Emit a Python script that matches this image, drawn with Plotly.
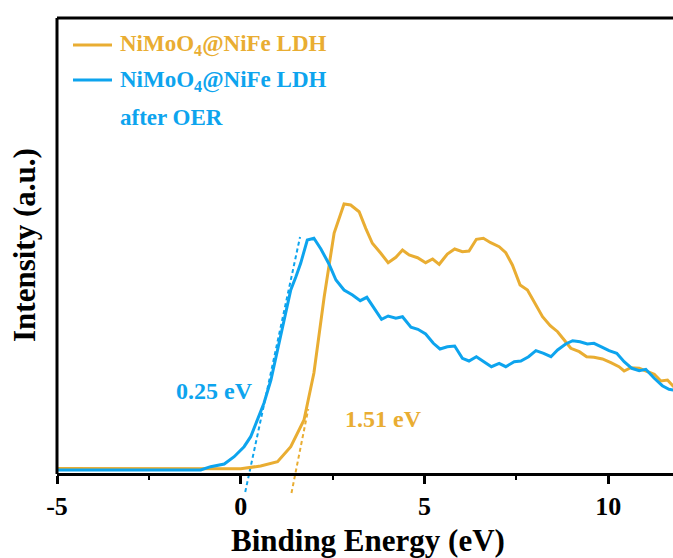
import plotly.graph_objects as go

# ---- UPS valence-band spectra (binding energy in eV, intensity in a.u.) ----
energy_fresh = [-5.0, -4.0, -3.0, -2.0, -1.0, -0.5, 0.0, 0.54, 1.0, 1.36, 1.72, 1.99,
                2.27, 2.54, 2.81, 2.99, 3.22, 3.40, 3.58, 3.81, 4.01, 4.22, 4.40, 4.58,
                4.81, 5.03, 5.22, 5.40, 5.62, 5.82, 6.03, 6.21, 6.41, 6.60, 6.80, 7.03,
                7.21, 7.39, 7.60, 7.80, 8.03, 8.21, 8.42, 8.62, 8.80, 8.98, 9.21, 9.41,
                9.61, 9.84, 10.07, 10.29, 10.43, 10.61, 10.84, 11.07, 11.25, 11.43,
                11.61, 11.78]
intensity_fresh = [5.5, 5.5, 6.0, 6.0, 5.5, 5.3, 5.3, 8.0, 12.3, 27.3, 54.0, 101.0,
                   177.3, 241.0, 270.0, 269.0, 262.3, 245.7, 230.7, 220.7, 211.3, 216.7,
                   224.0, 219.0, 216.3, 211.3, 215.0, 209.7, 220.0, 225.0, 222.3, 223.0,
                   234.7, 235.7, 231.3, 227.3, 221.3, 209.0, 189.0, 184.0, 169.0, 157.3,
                   148.3, 142.3, 134.0, 125.7, 122.3, 117.3, 116.7, 115.0, 111.3, 107.3,
                   103.0, 106.3, 105.7, 102.3, 99.7, 93.0, 94.0, 87.3]

energy_oer = [-5.0, -4.0, -3.0, -2.0, -1.09, -0.82, -0.45, -0.18, 0.09, 0.27, 0.45,
              0.63, 0.82, 1.00, 1.18, 1.36, 1.50, 1.63, 1.81, 1.99, 2.18, 2.40, 2.59,
              2.81, 3.04, 3.25, 3.43, 3.63, 3.83, 4.01, 4.22, 4.40, 4.63, 4.82, 5.03,
              5.24, 5.42, 5.62, 5.82, 6.03, 6.21, 6.41, 6.62, 6.82, 7.03, 7.21, 7.44,
              7.62, 7.83, 8.03, 8.24, 8.44, 8.62, 8.84, 9.03, 9.23, 9.43, 9.61, 9.84,
              10.02, 10.23, 10.43, 10.64, 10.84, 11.02, 11.25, 11.47, 11.65, 11.78]
intensity_oer = [4.0, 4.0, 4.0, 4.0, 4.0, 7.3, 10.0, 17.3, 27.3, 37.3, 54.0, 70.7,
                 94.0, 124.0, 154.0, 184.0, 197.3, 210.7, 234.0, 235.7, 225.0, 210.0,
                 194.0, 184.0, 179.0, 173.3, 176.7, 165.7, 154.7, 158.0, 155.7, 157.3,
                 146.7, 144.7, 140.0, 130.7, 125.0, 127.3, 128.0, 115.7, 113.0, 117.3,
                 112.3, 107.3, 110.7, 107.3, 112.3, 113.0, 117.3, 123.3, 120.7, 117.3,
                 124.0, 130.0, 133.3, 132.3, 130.0, 130.7, 126.7, 123.3, 120.7, 112.3,
                 105.7, 103.3, 104.7, 95.7, 88.3, 84.7, 84.0]

# x tick positions and their labels (plain hyphen for the minus sign)
tick_values = [-5, 0, 5, 10]
tick_labels = ["-5", "0", "5", "10"]

# leading-edge extrapolation: onset (eV), baseline, slope (a.u./eV), end intensities
onset_fresh, base_fresh, slope_fresh, ends_fresh = 1.51, 5.0, 184.0, (-19.0, 65.0)
onset_oer, base_oer, slope_oer, ends_oer = 0.25, 4.0, 171.0, (-18.0, 237.0)

ORANGE = "#E9AD32"
BLUE = "#0DA4EE"
FONT = "Liberation Serif"

X_RANGE = [-5, 11.76]
Y_RANGE = [-20, 456]

W, H = 673, 558
ML, MR, MT, MB = 57, 0, 18, 64
PW, PH = W - ML - MR, H - MT - MB


def fx(px):
    return (px - ML) / PW


def fy(py):
    return (H - MB - py) / PH


def tangent(onset, base, slope, ends):
    ys = list(ends)
    xs = [onset + (y - base) / slope for y in ys]
    return xs, ys


fig = go.Figure()

tx, ty = tangent(onset_oer, base_oer, slope_oer, ends_oer)
fig.add_trace(go.Scatter(x=tx, y=ty, mode="lines",
                         line=dict(color=BLUE, width=2, dash="4px,3px"),
                         showlegend=False, hoverinfo="skip"))
tx, ty = tangent(onset_fresh, base_fresh, slope_fresh, ends_fresh)
fig.add_trace(go.Scatter(x=tx, y=ty, mode="lines",
                         line=dict(color=ORANGE, width=2, dash="4px,3px"),
                         showlegend=False, hoverinfo="skip"))

fig.add_trace(go.Scatter(x=energy_fresh, y=intensity_fresh, mode="lines",
                         line=dict(color=ORANGE, width=3),
                         name="NiMoO4@NiFe LDH", showlegend=False))
fig.add_trace(go.Scatter(x=energy_oer, y=intensity_oer, mode="lines",
                         line=dict(color=BLUE, width=3),
                         name="NiMoO4@NiFe LDH after OER", showlegend=False))

# x axis sits at zero intensity so the onset guides can cross below it
axis_pos = (0 - Y_RANGE[0]) / (Y_RANGE[1] - Y_RANGE[0])

fig.update_layout(
    width=W, height=H,
    margin=dict(l=ML, r=MR, t=MT, b=MB),
    paper_bgcolor="white", plot_bgcolor="white",
    font=dict(family=FONT, color="black"),
    xaxis=dict(range=X_RANGE, anchor="free", position=axis_pos,
               showline=True, linecolor="black", linewidth=3,
               ticks="outside", ticklen=8, tickwidth=2.5, tickcolor="black",
               tickmode="array", tickvals=tick_values, ticktext=tick_labels,
               minor=dict(ticks="outside", ticklen=4, tickwidth=2,
                          tickcolor="black", tick0=-5, dtick=2.5),
               tickfont=dict(family=FONT, size=26, color="black", weight="bold"),
               showgrid=False, zeroline=False),
    yaxis=dict(range=Y_RANGE, visible=False, showgrid=False, zeroline=False),
)

# frame: left spine and top border
fig.add_shape(type="line", xref="paper", yref="paper", x0=0, x1=0,
              y0=axis_pos, y1=1, line=dict(color="black", width=3))
fig.add_shape(type="line", xref="paper", yref="paper", x0=0, x1=1,
              y0=1, y1=1, line=dict(color="black", width=3))

# legend
for color, py in [(ORANGE, 45), (BLUE, 80)]:
    fig.add_shape(type="line", xref="paper", yref="paper",
                  x0=fx(73), x1=fx(112), y0=fy(py), y1=fy(py),
                  line=dict(color=color, width=3))

legend_font = dict(family=FONT, size=23, weight="bold")
fig.add_annotation(x=fx(118), y=fy(45), xref="paper", yref="paper",
                   xanchor="left", yanchor="middle", showarrow=False,
                   text="NiMoO<sub>4</sub>@NiFe LDH",
                   font=dict(legend_font, color=ORANGE))
fig.add_annotation(x=fx(118), y=fy(81), xref="paper", yref="paper",
                   xanchor="left", yanchor="middle", showarrow=False,
                   text="NiMoO<sub>4</sub>@NiFe LDH",
                   font=dict(legend_font, color=BLUE))
fig.add_annotation(x=fx(118), y=fy(117), xref="paper", yref="paper",
                   xanchor="left", yanchor="middle", showarrow=False,
                   text="after OER",
                   font=dict(legend_font, color=BLUE))

# onset labels
fig.add_annotation(x=-0.71, y=83, xref="x", yref="y", showarrow=False,
                   xanchor="center", yanchor="middle",
                   text=f"{onset_oer:.2f} eV",
                   font=dict(family=FONT, size=24, weight="bold", color=BLUE))
fig.add_annotation(x=3.89, y=55, xref="x", yref="y", showarrow=False,
                   xanchor="center", yanchor="middle",
                   text=f"{onset_fresh:.2f} eV",
                   font=dict(family=FONT, size=24, weight="bold", color=ORANGE))

# axis titles
fig.add_annotation(x=fx(368), y=fy(540), xref="paper", yref="paper",
                   xanchor="center", yanchor="middle",
                   showarrow=False, text="Binding Energy (eV)",
                   font=dict(family=FONT, size=31, weight="bold", color="black"))
fig.add_annotation(x=fx(24), y=fy(245), xref="paper", yref="paper",
                   xanchor="center", yanchor="middle",
                   showarrow=False, text="Intensity (a.u.)", textangle=-90,
                   font=dict(family=FONT, size=31, weight="bold", color="black"))

fig.write_html("out.html")
